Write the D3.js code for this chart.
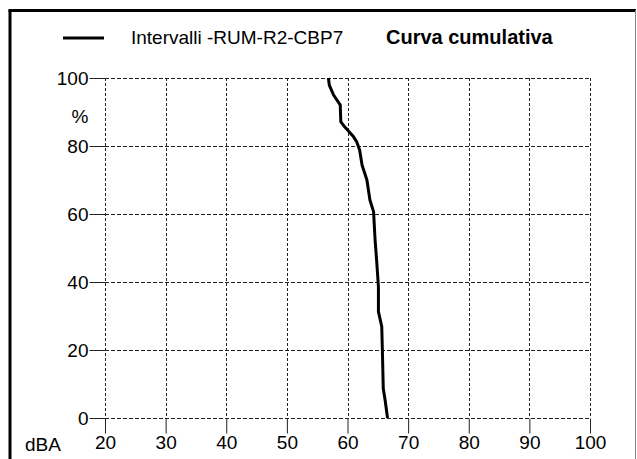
<!DOCTYPE html>
<html>
<head>
<meta charset="utf-8">
<style>
body { margin: 0; background: #fff; }
text { font-family: Arial, "Liberation Sans", sans-serif; font-size: 19px; fill: #000; }
</style>
<script src="https://cdn.jsdelivr.net/npm/d3@7"></script>
</head>
<body>
<script>

// cumulative curve: dBA level / % of time
var dba = [56.85, 57.0, 57.7, 58.8, 58.9, 59.6, 61.0, 61.5, 62.0, 62.4, 63.2, 63.7,
           64.3, 64.55, 64.8, 65.1, 65.1, 65.65, 65.75, 65.9, 66.2, 66.6];
var pct = [100, 97.9, 95.0, 92.1, 87.1, 85.5, 82.7, 81.3, 78.8, 74.4, 70.0, 64.1,
           60.7, 52.4, 46.5, 38.6, 31.3, 26.9, 20, 8.7, 5.3, 0];
var xTicks = [20, 30, 40, 50, 60, 70, 80, 90, 100];
var yTicks = [0, 20, 40, 60, 80, 100];
var seriesName = "Intervalli -RUM-R2-CBP7";
var title = "Curva cumulativa";

var width = 637, height = 459;

var svg = d3.select("body").append("svg")
    .attr("width", width)
    .attr("height", height);

// frame: heavy left/top, thin grey right
svg.append("line").attr("x1", 10).attr("y1", 10).attr("x2", 10).attr("y2", height)
    .style("stroke", "#000").style("stroke-width", 3);
svg.append("line").attr("x1", 8.5).attr("y1", 10.5).attr("x2", 636).attr("y2", 10.5)
    .style("stroke", "#000").style("stroke-width", 3);
svg.append("line").attr("x1", 635.5).attr("y1", 10).attr("x2", 635.5).attr("y2", height)
    .style("stroke", "#888").style("stroke-width", 1);

var x = d3.scaleLinear().domain([20, 100]).range([105, 590]);
var y = d3.scaleLinear().domain([0, 100]).range([418, 78]);

// dashed grid
svg.append("g").selectAll("line")
    .data(xTicks)
  .enter().append("line")
    .attr("x1", function(d) { return Math.round(x(d)) + 0.5; })
    .attr("x2", function(d) { return Math.round(x(d)) + 0.5; })
    .attr("y1", y(100)).attr("y2", y(0))
    .style("stroke", "#222").style("stroke-dasharray", "3,2");

svg.append("g").selectAll("line")
    .data(yTicks)
  .enter().append("line")
    .attr("y1", function(d) { return Math.round(y(d)) + 0.5; })
    .attr("y2", function(d) { return Math.round(y(d)) + 0.5; })
    .attr("x1", x(20)).attr("x2", x(100))
    .style("stroke", "#222").style("stroke-dasharray", "4,2");

// axes, ticks only outside the plot
var xAxis = svg.append("g")
    .attr("transform", "translate(0," + (Math.round(y(0)) + 0.5) + ")")
    .call(d3.axisBottom(x).tickValues(xTicks).tickSize(15).tickPadding(2));
var yAxis = svg.append("g")
    .attr("transform", "translate(" + (Math.round(x(20)) + 0.5) + ",0)")
    .call(d3.axisLeft(y).tickValues(yTicks).tickSize(16).tickPadding(1));

[xAxis, yAxis].forEach(function(a) {
  a.select(".domain").remove();
  a.selectAll("line").style("stroke", "#222");
  a.selectAll("text").style("font-family", "Arial, 'Liberation Sans', sans-serif")
    .style("font-size", "19px").style("fill", "#000");
});
xAxis.selectAll("text").attr("dy", "0.71em");
yAxis.selectAll("text").attr("dy", "0.36em");

svg.append("text").attr("x", 25).attr("y", 451).text("dBA");
svg.append("text").attr("x", 80).attr("y", 123).attr("text-anchor", "middle").text("%");

// the curve
var line = d3.line()
    .x(function(d, i) { return x(dba[i]); })
    .y(function(d, i) { return y(pct[i]); });

svg.append("path")
    .datum(dba)
    .attr("d", line)
    .style("fill", "none")
    .style("stroke", "#000")
    .style("stroke-width", 3)
    .style("stroke-linejoin", "round");

// legend + title
svg.append("line").attr("x1", 63).attr("x2", 104).attr("y1", 38).attr("y2", 38)
    .style("stroke", "#000").style("stroke-width", 3);
svg.append("text").attr("x", 131).attr("y", 44).text(seriesName);
svg.append("text").attr("x", 386).attr("y", 44)
    .style("font-weight", "bold").style("font-size", "20px").text(title);

</script>
</body>
</html>
